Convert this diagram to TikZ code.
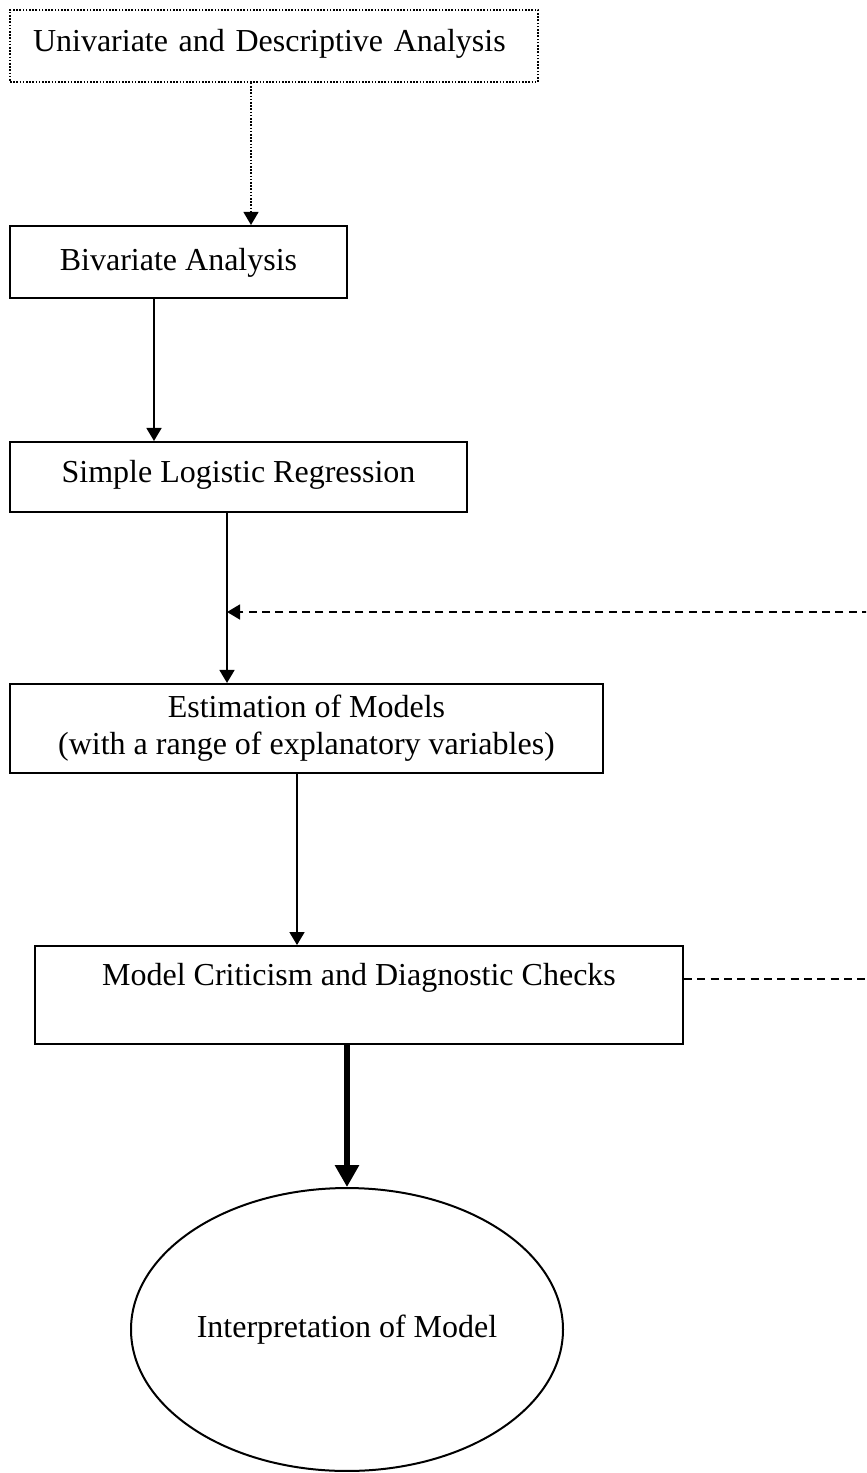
\documentclass[tikz,border=0pt]{standalone}
\usepackage{fontspec}
\setmainfont{Liberation Serif}
\usepackage{tikz}
\usetikzlibrary{arrows.meta,shapes.geometric}
\tikzset{
	stage/.style={draw, rectangle, line width=0.75pt, inner sep=0pt, font=\fontsize{12}{14}\selectfont},
	sketchy/.style={line width=0.6pt, dash pattern=on 0.6pt off 0.6pt},
	flow/.style={line width=0.75pt, -{Triangle[width=5.6pt,length=4.9pt]}},
	bigflow/.style={line width=2.6pt, -{Triangle[width=8.6pt,length=8.2pt]}},
	feedback/.style={line width=0.75pt, dash pattern=on 3pt off 2pt},
}

\begin{document}
\begin{tikzpicture}[x=0.375pt, y=-0.375pt]
	\useasboundingbox (0,0) rectangle (866,1473);
	\clip (0,0) rectangle (866,1473);

	\node[stage, sketchy, text width=180.75pt, align=left, inner xsep=8.6pt, text height=15.75pt, text depth=11.25pt] (univ) at (274,46) {Univariate and Descriptive Analysis};
	\node[stage, minimum width=126.4pt, text height=16.5pt, text depth=10.5pt] (biv) at (178.5,262) {Bivariate Analysis};
	\node[stage, minimum width=171.4pt, text height=15pt, text depth=11.25pt] (slr) at (238.5,477) {Simple Logistic Regression};
	\node[stage, minimum width=222.4pt, minimum height=33.4pt, align=center] (est) at (306.5,728.5) {Estimation of Models\\(with a range of explanatory variables)};
	\node[stage, minimum width=243pt, text height=14.6pt, text depth=22.1pt] (crit) at (359,995) {Model Criticism and Diagnostic Checks};
	\node[draw, ellipse, line width=0.75pt, inner sep=0pt, minimum width=162pt, minimum height=106.1pt, font=\fontsize{12}{14}\selectfont] (interp) at (347,1329.5) {Interpretation of Model};

	\coordinate (colA) at (251,0);
	\coordinate (colB) at (154,0);
	\coordinate (colC) at (227,0);
	\coordinate (colD) at (297,0);
	\coordinate (fbin) at (870,612);
	\coordinate (fbout) at (870,979);

	\draw[flow, sketchy] (univ.south -| colA) -- (biv.north -| colA);
	\draw[flow] (biv.south -| colB) -- (slr.north -| colB);
	\draw[flow] (slr.south -| colC) -- (est.north -| colC);
	\draw[flow] (est.south -| colD) -- (crit.north -| colD);
	\draw[bigflow] (crit.south -| interp.north) -- (interp.north);

	\draw[feedback] (crit.east |- fbout) -- (fbout);
	\draw[feedback, -{Triangle[width=5.6pt,length=4.9pt]}] (fbin) -- (fbin -| colC);
\end{tikzpicture}
\end{document}
